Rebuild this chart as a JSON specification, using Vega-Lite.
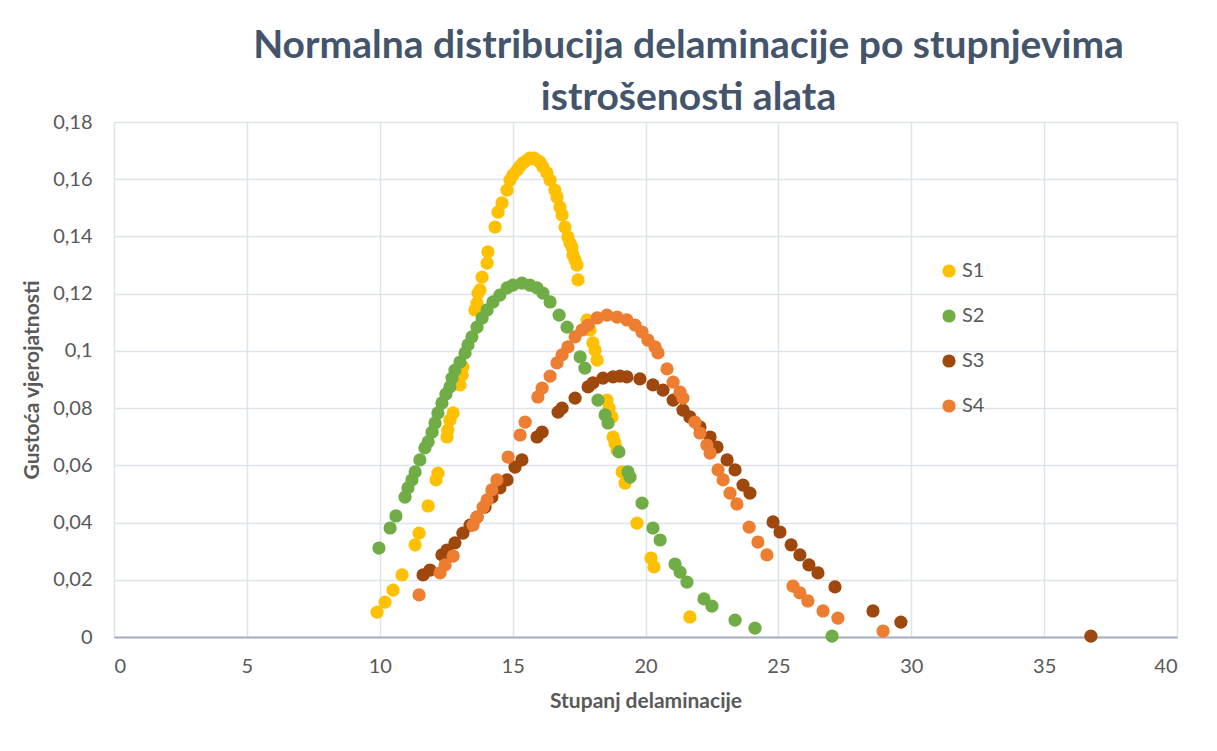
{
  "$schema": "https://vega.github.io/schema/vega-lite/v6.json",
  "width": 1063,
  "height": 515,
  "autosize": "none",
  "padding": {"left": 114, "top": 122, "right": 40, "bottom": 114},
  "background": "white",
  "title": {
    "text": ["Normalna distribucija delaminacije po stupnjevima", "istrošenosti alata"],
    "font": "Lato",
    "fontWeight": "bold",
    "fontSize": 39,
    "color": "#44546A",
    "anchor": "middle",
    "dx": 43,
    "lineHeight": 52,
    "offset": -6
  },
  "data": {
    "values": [
      {"s":"S1","x":9.90,"y":0.0087},{"s":"S1","x":10.20,"y":0.0122},{"s":"S1","x":10.50,"y":0.0164},{"s":"S1","x":10.84,"y":0.0217},
      {"s":"S1","x":11.33,"y":0.0322},{"s":"S1","x":11.48,"y":0.0363},{"s":"S1","x":11.82,"y":0.0458},{"s":"S1","x":12.12,"y":0.0549},
      {"s":"S1","x":12.19,"y":0.0573},{"s":"S1","x":12.53,"y":0.0699},{"s":"S1","x":12.56,"y":0.0723},{"s":"S1","x":12.64,"y":0.0758},
      {"s":"S1","x":12.76,"y":0.0783},{"s":"S1","x":13.02,"y":0.0881},{"s":"S1","x":13.10,"y":0.0916},{"s":"S1","x":13.13,"y":0.0944},
      {"s":"S1","x":13.58,"y":0.1143},{"s":"S1","x":13.66,"y":0.1167},{"s":"S1","x":13.70,"y":0.1202},{"s":"S1","x":13.77,"y":0.1213},
      {"s":"S1","x":13.85,"y":0.1258},{"s":"S1","x":14.04,"y":0.1307},{"s":"S1","x":14.07,"y":0.1346},{"s":"S1","x":14.34,"y":0.1433},
      {"s":"S1","x":14.45,"y":0.1485},{"s":"S1","x":14.60,"y":0.1517},{"s":"S1","x":14.79,"y":0.1562},{"s":"S1","x":14.90,"y":0.1597},
      {"s":"S1","x":15.01,"y":0.1615},{"s":"S1","x":15.17,"y":0.1632},{"s":"S1","x":15.28,"y":0.1646},{"s":"S1","x":15.39,"y":0.1657},
      {"s":"S1","x":15.54,"y":0.1667},{"s":"S1","x":15.65,"y":0.1674},{"s":"S1","x":15.80,"y":0.1674},{"s":"S1","x":15.92,"y":0.1667},
      {"s":"S1","x":16.03,"y":0.1660},{"s":"S1","x":16.14,"y":0.1643},{"s":"S1","x":16.29,"y":0.1622},{"s":"S1","x":16.41,"y":0.1597},
      {"s":"S1","x":16.59,"y":0.1562},{"s":"S1","x":16.67,"y":0.1538},{"s":"S1","x":16.78,"y":0.1503},{"s":"S1","x":16.86,"y":0.1475},
      {"s":"S1","x":16.97,"y":0.1433},{"s":"S1","x":17.08,"y":0.1398},{"s":"S1","x":17.16,"y":0.1377},{"s":"S1","x":17.23,"y":0.1363},
      {"s":"S1","x":17.27,"y":0.1335},{"s":"S1","x":17.35,"y":0.1318},{"s":"S1","x":17.42,"y":0.1300},{"s":"S1","x":17.46,"y":0.1248},
      {"s":"S1","x":17.80,"y":0.1108},{"s":"S1","x":17.91,"y":0.1073},{"s":"S1","x":18.02,"y":0.1028},{"s":"S1","x":18.10,"y":0.1003},
      {"s":"S1","x":18.18,"y":0.0968},{"s":"S1","x":18.55,"y":0.0828},{"s":"S1","x":18.63,"y":0.0800},{"s":"S1","x":18.74,"y":0.0769},
      {"s":"S1","x":18.78,"y":0.0699},{"s":"S1","x":18.85,"y":0.0678},{"s":"S1","x":18.93,"y":0.0654},{"s":"S1","x":19.12,"y":0.0577},
      {"s":"S1","x":19.23,"y":0.0538},{"s":"S1","x":19.68,"y":0.0398},{"s":"S1","x":20.21,"y":0.0276},{"s":"S1","x":20.32,"y":0.0245},
      {"s":"S1","x":21.67,"y":0.0070},

      {"s":"S2","x":9.97,"y":0.0311},{"s":"S2","x":10.39,"y":0.0381},{"s":"S2","x":10.61,"y":0.0423},{"s":"S2","x":10.95,"y":0.0489},
      {"s":"S2","x":11.06,"y":0.0521},{"s":"S2","x":11.21,"y":0.0549},{"s":"S2","x":11.33,"y":0.0577},{"s":"S2","x":11.51,"y":0.0619},
      {"s":"S2","x":11.70,"y":0.0661},{"s":"S2","x":11.82,"y":0.0682},{"s":"S2","x":11.97,"y":0.0716},{"s":"S2","x":12.08,"y":0.0748},
      {"s":"S2","x":12.19,"y":0.0783},{"s":"S2","x":12.34,"y":0.0818},{"s":"S2","x":12.49,"y":0.0849},{"s":"S2","x":12.64,"y":0.0874},
      {"s":"S2","x":12.72,"y":0.0905},{"s":"S2","x":12.83,"y":0.0933},{"s":"S2","x":13.02,"y":0.0961},{"s":"S2","x":13.21,"y":0.0993},
      {"s":"S2","x":13.32,"y":0.1021},{"s":"S2","x":13.47,"y":0.1049},{"s":"S2","x":13.66,"y":0.1083},{"s":"S2","x":13.85,"y":0.1115},
      {"s":"S2","x":14.04,"y":0.1143},{"s":"S2","x":14.26,"y":0.1171},{"s":"S2","x":14.52,"y":0.1195},{"s":"S2","x":14.79,"y":0.1220},
      {"s":"S2","x":15.01,"y":0.1230},{"s":"S2","x":15.35,"y":0.1237},{"s":"S2","x":15.65,"y":0.1230},{"s":"S2","x":15.92,"y":0.1220},
      {"s":"S2","x":16.14,"y":0.1202},{"s":"S2","x":16.41,"y":0.1171},{"s":"S2","x":16.75,"y":0.1125},{"s":"S2","x":17.05,"y":0.1083},
      {"s":"S2","x":17.54,"y":0.0979},{"s":"S2","x":17.72,"y":0.0940},{"s":"S2","x":18.21,"y":0.0828},{"s":"S2","x":18.48,"y":0.0776},
      {"s":"S2","x":18.59,"y":0.0748},{"s":"S2","x":19.00,"y":0.0647},{"s":"S2","x":19.34,"y":0.0577},{"s":"S2","x":19.42,"y":0.0559},
      {"s":"S2","x":19.87,"y":0.0468},{"s":"S2","x":20.28,"y":0.0381},{"s":"S2","x":20.55,"y":0.0339},{"s":"S2","x":21.11,"y":0.0255},
      {"s":"S2","x":21.30,"y":0.0227},{"s":"S2","x":21.56,"y":0.0192},{"s":"S2","x":22.20,"y":0.0133},{"s":"S2","x":22.50,"y":0.0108},
      {"s":"S2","x":23.37,"y":0.0059},{"s":"S2","x":24.12,"y":0.0031},{"s":"S2","x":27.02,"y":0.0003},

      {"s":"S3","x":11.63,"y":0.0217},{"s":"S3","x":11.89,"y":0.0234},{"s":"S3","x":12.34,"y":0.0287},{"s":"S3","x":12.53,"y":0.0304},
      {"s":"S3","x":12.83,"y":0.0329},{"s":"S3","x":13.13,"y":0.0363},{"s":"S3","x":13.40,"y":0.0391},{"s":"S3","x":13.66,"y":0.0419},
      {"s":"S3","x":13.96,"y":0.0454},{"s":"S3","x":14.22,"y":0.0489},{"s":"S3","x":14.52,"y":0.0521},{"s":"S3","x":14.79,"y":0.0549},
      {"s":"S3","x":15.09,"y":0.0594},{"s":"S3","x":15.35,"y":0.0619},{"s":"S3","x":15.92,"y":0.0699},{"s":"S3","x":16.11,"y":0.0716},
      {"s":"S3","x":16.71,"y":0.0786},{"s":"S3","x":16.86,"y":0.0800},{"s":"S3","x":17.35,"y":0.0835},{"s":"S3","x":17.84,"y":0.0874},
      {"s":"S3","x":18.02,"y":0.0888},{"s":"S3","x":18.40,"y":0.0905},{"s":"S3","x":18.78,"y":0.0909},{"s":"S3","x":19.04,"y":0.0912},
      {"s":"S3","x":19.30,"y":0.0909},{"s":"S3","x":19.79,"y":0.0902},{"s":"S3","x":20.28,"y":0.0881},{"s":"S3","x":20.66,"y":0.0863},
      {"s":"S3","x":21.04,"y":0.0828},{"s":"S3","x":21.41,"y":0.0793},{"s":"S3","x":21.67,"y":0.0769},{"s":"S3","x":22.05,"y":0.0734},
      {"s":"S3","x":22.43,"y":0.0699},{"s":"S3","x":22.69,"y":0.0664},{"s":"S3","x":23.07,"y":0.0619},{"s":"S3","x":23.37,"y":0.0584},
      {"s":"S3","x":23.67,"y":0.0531},{"s":"S3","x":23.93,"y":0.0503},{"s":"S3","x":24.80,"y":0.0402},{"s":"S3","x":25.06,"y":0.0367},
      {"s":"S3","x":25.48,"y":0.0322},{"s":"S3","x":25.81,"y":0.0287},{"s":"S3","x":26.15,"y":0.0252},{"s":"S3","x":26.49,"y":0.0224},
      {"s":"S3","x":27.13,"y":0.0175},{"s":"S3","x":28.56,"y":0.0091},{"s":"S3","x":29.61,"y":0.0052},{"s":"S3","x":36.76,"y":0.0003},

      {"s":"S4","x":11.48,"y":0.0147},{"s":"S4","x":12.27,"y":0.0224},{"s":"S4","x":12.46,"y":0.0252},{"s":"S4","x":12.76,"y":0.0283},
      {"s":"S4","x":13.51,"y":0.0391},{"s":"S4","x":13.66,"y":0.0419},{"s":"S4","x":13.89,"y":0.0454},{"s":"S4","x":14.04,"y":0.0479},
      {"s":"S4","x":14.22,"y":0.0514},{"s":"S4","x":14.41,"y":0.0549},{"s":"S4","x":14.83,"y":0.0629},{"s":"S4","x":15.28,"y":0.0706},
      {"s":"S4","x":15.47,"y":0.0751},{"s":"S4","x":15.95,"y":0.0839},{"s":"S4","x":16.11,"y":0.0870},{"s":"S4","x":16.41,"y":0.0912},
      {"s":"S4","x":16.67,"y":0.0958},{"s":"S4","x":16.86,"y":0.0986},{"s":"S4","x":17.08,"y":0.1014},{"s":"S4","x":17.35,"y":0.1049},
      {"s":"S4","x":17.61,"y":0.1073},{"s":"S4","x":17.84,"y":0.1090},{"s":"S4","x":18.18,"y":0.1115},{"s":"S4","x":18.55,"y":0.1125},
      {"s":"S4","x":18.93,"y":0.1118},{"s":"S4","x":19.30,"y":0.1108},{"s":"S4","x":19.61,"y":0.1090},{"s":"S4","x":19.87,"y":0.1066},
      {"s":"S4","x":20.09,"y":0.1038},{"s":"S4","x":20.36,"y":0.1014},{"s":"S4","x":20.47,"y":0.0993},{"s":"S4","x":20.81,"y":0.0937},
      {"s":"S4","x":21.04,"y":0.0891},{"s":"S4","x":21.30,"y":0.0856},{"s":"S4","x":21.41,"y":0.0835},{"s":"S4","x":21.86,"y":0.0751},
      {"s":"S4","x":22.05,"y":0.0713},{"s":"S4","x":22.31,"y":0.0671},{"s":"S4","x":22.43,"y":0.0643},{"s":"S4","x":22.73,"y":0.0584},
      {"s":"S4","x":22.92,"y":0.0549},{"s":"S4","x":23.18,"y":0.0503},{"s":"S4","x":23.44,"y":0.0465},{"s":"S4","x":23.90,"y":0.0384},
      {"s":"S4","x":24.23,"y":0.0332},{"s":"S4","x":24.57,"y":0.0287},{"s":"S4","x":25.55,"y":0.0178},{"s":"S4","x":25.81,"y":0.0154},
      {"s":"S4","x":26.11,"y":0.0126},{"s":"S4","x":26.68,"y":0.0091},{"s":"S4","x":27.24,"y":0.0066},{"s":"S4","x":28.94,"y":0.0021}
    ]
  },
  "mark": {"type": "point", "filled": true, "size": 175, "opacity": 1},
  "encoding": {
    "x": {
      "field": "x", "type": "quantitative",
      "scale": {"domain": [0, 40], "nice": false},
      "axis": {
        "values": [0, 5, 10, 15, 20, 25, 30, 35, 40],
        "title": "Stupanj delaminacije",
        "titleFont": "Lato", "titleFontWeight": "bold", "titleFontSize": 21, "titleColor": "#595959",
        "titlePadding": 14,
        "labelFont": "Lato", "labelFontSize": 20, "labelColor": "#595959", "labelPadding": 19,
        "ticks": false,
        "domainColor": "#A6AEBD", "domainWidth": 2,
        "grid": true, "gridColor": "#DFE3EA", "gridWidth": 1.5
      }
    },
    "y": {
      "field": "y", "type": "quantitative",
      "scale": {"domain": [0, 0.18], "nice": false},
      "axis": {
        "values": [0, 0.02, 0.04, 0.06, 0.08, 0.1, 0.12, 0.14, 0.16, 0.18],
        "labelExpr": "replace(format(datum.value, '~g'), '.', ',')",
        "title": "Gustoća vjerojatnosti",
        "titleFont": "Lato", "titleFontWeight": "bold", "titleFontSize": 21, "titleColor": "#595959",
        "titlePadding": 10,
        "labelFont": "Lato", "labelFontSize": 20, "labelColor": "#595959", "labelPadding": 22,
        "ticks": false,
        "domain": false,
        "grid": true, "gridColor": "#DFE3EA", "gridWidth": 1.5
      }
    },
    "color": {
      "field": "s", "type": "nominal",
      "scale": {"domain": ["S1", "S2", "S3", "S4"], "range": ["#FFC000", "#70AD47", "#9E480E", "#ED7D31"]},
      "legend": {
        "title": null,
        "orient": "none",
        "legendX": 825,
        "legendY": 139,
        "labelFont": "Lato", "labelFontSize": 20, "labelColor": "#595959",
        "symbolType": "circle", "symbolSize": 175, "symbolStrokeWidth": 0,
        "rowPadding": 25, "labelOffset": 3
      }
    }
  },
  "config": {"view": {"stroke": null}}
}
